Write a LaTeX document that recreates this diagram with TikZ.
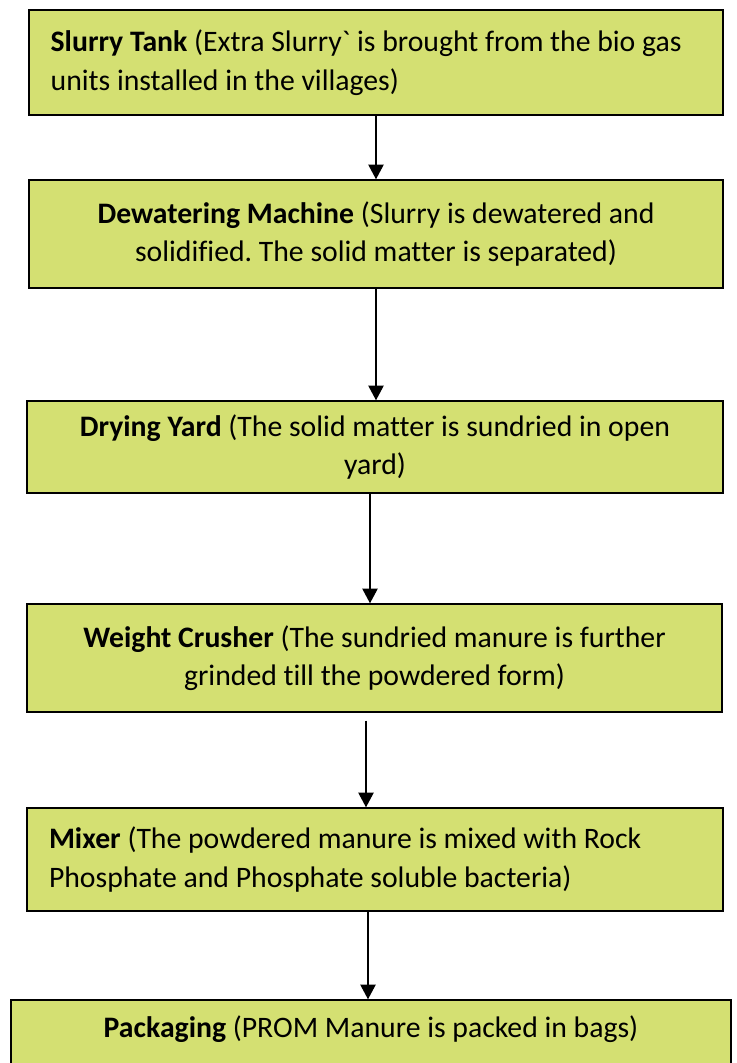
\documentclass[tikz,border=0pt]{standalone}
\usepackage{fontspec}
\setmainfont{Carlito}[Ligatures={NoCommon}]
\usepackage{tikz}
\usetikzlibrary{arrows.meta}
\definecolor{boxfill}{RGB}{212,224,114}
\frenchspacing

\begin{document}
\begin{tikzpicture}[x=0.75pt,y=0.75pt,yscale=-1,xscale=1,
    procbox/.style={draw=black, line width=1.1pt, fill=boxfill, inner xsep=16pt, inner ysep=0pt,
        font=\fontsize{22.3}{28.9}\selectfont},
    flowline/.style={line width=1pt, -{Triangle[width=11.5pt,length=11pt]}}]

    \useasboundingbox (0,0) rectangle (736,1063);

    %Shape: Rectangle (Slurry Tank)
    \node[procbox, minimum width=520.5pt, minimum height=78.75pt, text width=488pt, align=flush left] (tank) at (376,62.5)
        {\textbf{Slurry Tank} (Extra Slurry\textasciigrave{} is brought from the bio gas\\units installed in the villages)};
    %Shape: Rectangle (Dewatering Machine)
    \node[procbox, minimum width=520.5pt, minimum height=81pt, align=center] (dewater) at (376,234)
        {\textbf{Dewatering Machine} (Slurry is dewatered and\\solidified. The solid matter is separated)};
    %Shape: Rectangle (Drying Yard)
    \node[procbox, minimum width=522pt, minimum height=69pt, align=center] (drying) at (375,447)
        {\textbf{Drying Yard} (The solid matter is sundried in open\\yard)};
    %Shape: Rectangle (Weight Crusher)
    \node[procbox, minimum width=521.25pt, minimum height=81pt, align=center] (crusher) at (374.5,658)
        {\textbf{Weight Crusher} (The sundried manure is further\\grinded till the powdered form)};
    %Shape: Rectangle (Mixer)
    \node[procbox, minimum width=522pt, minimum height=77.25pt, text width=489pt, align=flush left] (mixer) at (375,859.5)
        {\textbf{Mixer} (The powdered manure is mixed with Rock\\Phosphate and Phosphate soluble bacteria)};
    %Shape: Rectangle (Packaging)
    \node[procbox, minimum width=540pt, minimum height=56.25pt, text depth=16pt] (packing) at (371,1037.5)
        {\textbf{Packaging} (PROM Manure is packed in bags)};

    %Straight Lines
    \draw[flowline] (tank.south -| 376,0) -- (dewater.north -| 376,0);
    %Straight Lines
    \draw[flowline] (dewater.south -| 376,0) -- (drying.north -| 376,0);
    %Straight Lines
    \draw[flowline] (drying.south -| 370,0) -- (crusher.north -| 370,0);
    %Straight Lines
    \draw[flowline, shorten <=6pt] (crusher.south -| 366,0) -- (mixer.north -| 366,0);
    %Straight Lines
    \draw[flowline] (mixer.south -| 368,0) -- (packing.north -| 368,0);

\end{tikzpicture}
\end{document}
